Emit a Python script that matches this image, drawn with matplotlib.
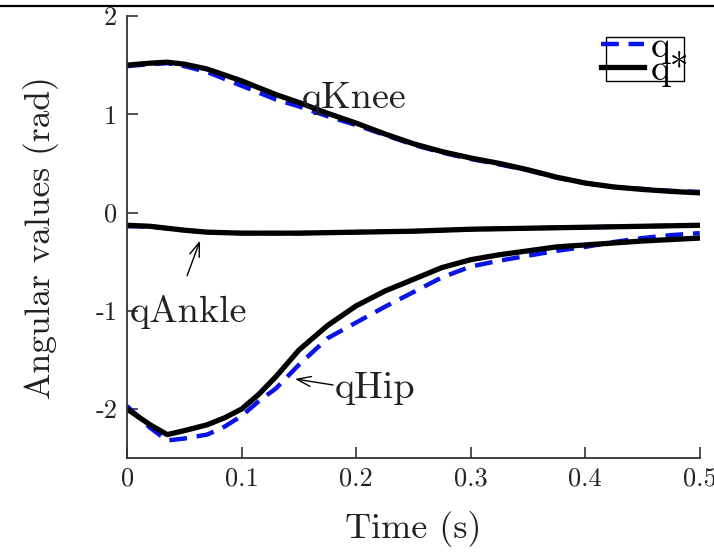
import matplotlib
matplotlib.use("Agg")
import matplotlib.pyplot as plt
from matplotlib.lines import Line2D

plt.rcParams['font.family'] = ['cmr10', 'DejaVu Serif']
plt.rcParams['mathtext.fontset'] = 'cm'
plt.rcParams['axes.unicode_minus'] = False
plt.rcParams['axes.formatter.use_mathtext'] = False

# ---- data ----
time = [0.0, 0.01, 0.02, 0.035, 0.05, 0.07, 0.085, 0.1, 0.115, 0.13, 0.15, 0.175,
        0.2, 0.225, 0.25, 0.275, 0.3, 0.325, 0.35, 0.375, 0.4, 0.425, 0.45, 0.475, 0.5]

knee_q = [1.49, 1.50, 1.51, 1.52, 1.49, 1.43, 1.36, 1.29, 1.22, 1.15, 1.08, 0.98,
          0.89, 0.79, 0.69, 0.61, 0.545, 0.49, 0.43, 0.355, 0.30, 0.26, 0.24, 0.22, 0.21]
knee_qs = [1.50, 1.51, 1.52, 1.53, 1.51, 1.46, 1.40, 1.34, 1.27, 1.20, 1.12, 1.01,
           0.91, 0.80, 0.70, 0.62, 0.555, 0.50, 0.435, 0.36, 0.30, 0.26, 0.235, 0.215, 0.20]

ankle_q = [-0.14, -0.14, -0.145, -0.16, -0.18, -0.20, -0.205, -0.21, -0.21, -0.21, -0.21, -0.205,
           -0.20, -0.195, -0.19, -0.18, -0.17, -0.165, -0.16, -0.155, -0.15, -0.145, -0.14, -0.135, -0.13]
ankle_qs = [-0.13, -0.135, -0.14, -0.16, -0.18, -0.20, -0.205, -0.21, -0.21, -0.21, -0.21, -0.205,
            -0.20, -0.195, -0.19, -0.18, -0.17, -0.165, -0.16, -0.155, -0.15, -0.145, -0.14, -0.135, -0.13]

hip_q = [-1.97, -2.08, -2.19, -2.32, -2.30, -2.26, -2.18, -2.07, -1.92, -1.79, -1.55, -1.28,
         -1.12, -0.96, -0.81, -0.66, -0.55, -0.49, -0.44, -0.39, -0.35, -0.30, -0.26, -0.23, -0.21]
hip_qs = [-2.00, -2.08, -2.16, -2.26, -2.22, -2.16, -2.09, -2.00, -1.85, -1.67, -1.40, -1.15,
          -0.95, -0.80, -0.68, -0.56, -0.48, -0.43, -0.39, -0.35, -0.33, -0.31, -0.29, -0.275, -0.26]

xticks = [0, 0.1, 0.2, 0.3, 0.4, 0.5]
xticklabels = ['0', '0.1', '0.2', '0.3', '0.4', '0.5']
yticks = [-2, -1, 0, 1, 2]
yticklabels = ['-2', '-1', '0', '1', '2']

# ---- figure ----
fig = plt.figure(figsize=(7.14, 5.52), dpi=100)
ax = fig.add_axes([0.178, 0.170, 0.802, 0.801])

blue = '#0a14e6'
dash = dict(color=blue, lw=3.2, linestyle=(0, (4.0, 2.2)), dash_capstyle='butt')
solid = dict(color='black', lw=3.8)

ax.plot(time, knee_q, label='q', **dash)
ax.plot(time, ankle_q, **dash)
ax.plot(time, hip_q, **dash)
ax.plot(time, knee_qs, label='q*', **solid)
ax.plot(time, ankle_qs, **solid)
ax.plot(time, hip_qs, **solid)

ax.set_xlim(0, 0.5)
ax.set_ylim(-2.5, 2)
ax.set_xticks(xticks)
ax.set_xticklabels(xticklabels)
ax.set_yticks(yticks)
ax.set_yticklabels(yticklabels)

for s in ['top', 'right']:
    ax.spines[s].set_visible(False)
for s in ['left', 'bottom']:
    ax.spines[s].set_color('#333333')
    ax.spines[s].set_linewidth(1.3)
ax.tick_params(direction='in', length=8, width=1.2, colors='#333333',
               labelsize=19, labelcolor='#222222')
ax.tick_params(axis='x', pad=6)
ax.tick_params(axis='y', pad=7)

ax.set_xlabel('Time (s)', fontsize=26, color='#222222', labelpad=15)
ax.set_ylabel('Angular values (rad)', fontsize=25.5, color='#222222', labelpad=26)

tc = '#222222'
fs_ann = 27.5
ax.text(0.1527, 1.06, 'qKnee', fontsize=fs_ann, color=tc, ha='left', va='baseline')
ax.text(0.002, -1.11, 'qAnkle', fontsize=fs_ann, color=tc, ha='left', va='baseline')
ax.text(0.1815, -1.89, 'qHip', fontsize=fs_ann, color=tc, ha='left', va='baseline')
arrow = dict(arrowstyle='->,head_length=0.5,head_width=0.18', color='black', lw=1.0,
             shrinkA=0, shrinkB=0, mutation_scale=20)
ax.annotate('', xy=(0.0637, -0.286), xytext=(0.0524, -0.643), arrowprops=arrow)
ax.annotate('', xy=(0.1466, -1.694), xytext=(0.1798, -1.755), arrowprops=arrow)

leg = ax.legend(loc='upper right', bbox_to_anchor=(0.972, 0.953), fontsize=27,
                frameon=True, fancybox=False, edgecolor='black', framealpha=1,
                handlelength=1.15, handletextpad=0.18, borderpad=-0.15,
                labelspacing=-0.36, borderaxespad=0)
leg.get_frame().set_linewidth(1.0)

fig.add_artist(Line2D([0, 1], [1 - 5.5 / 552, 1 - 5.5 / 552], transform=fig.transFigure,
                      color='black', lw=1.6))

fig.savefig('out.png', dpi=100)
